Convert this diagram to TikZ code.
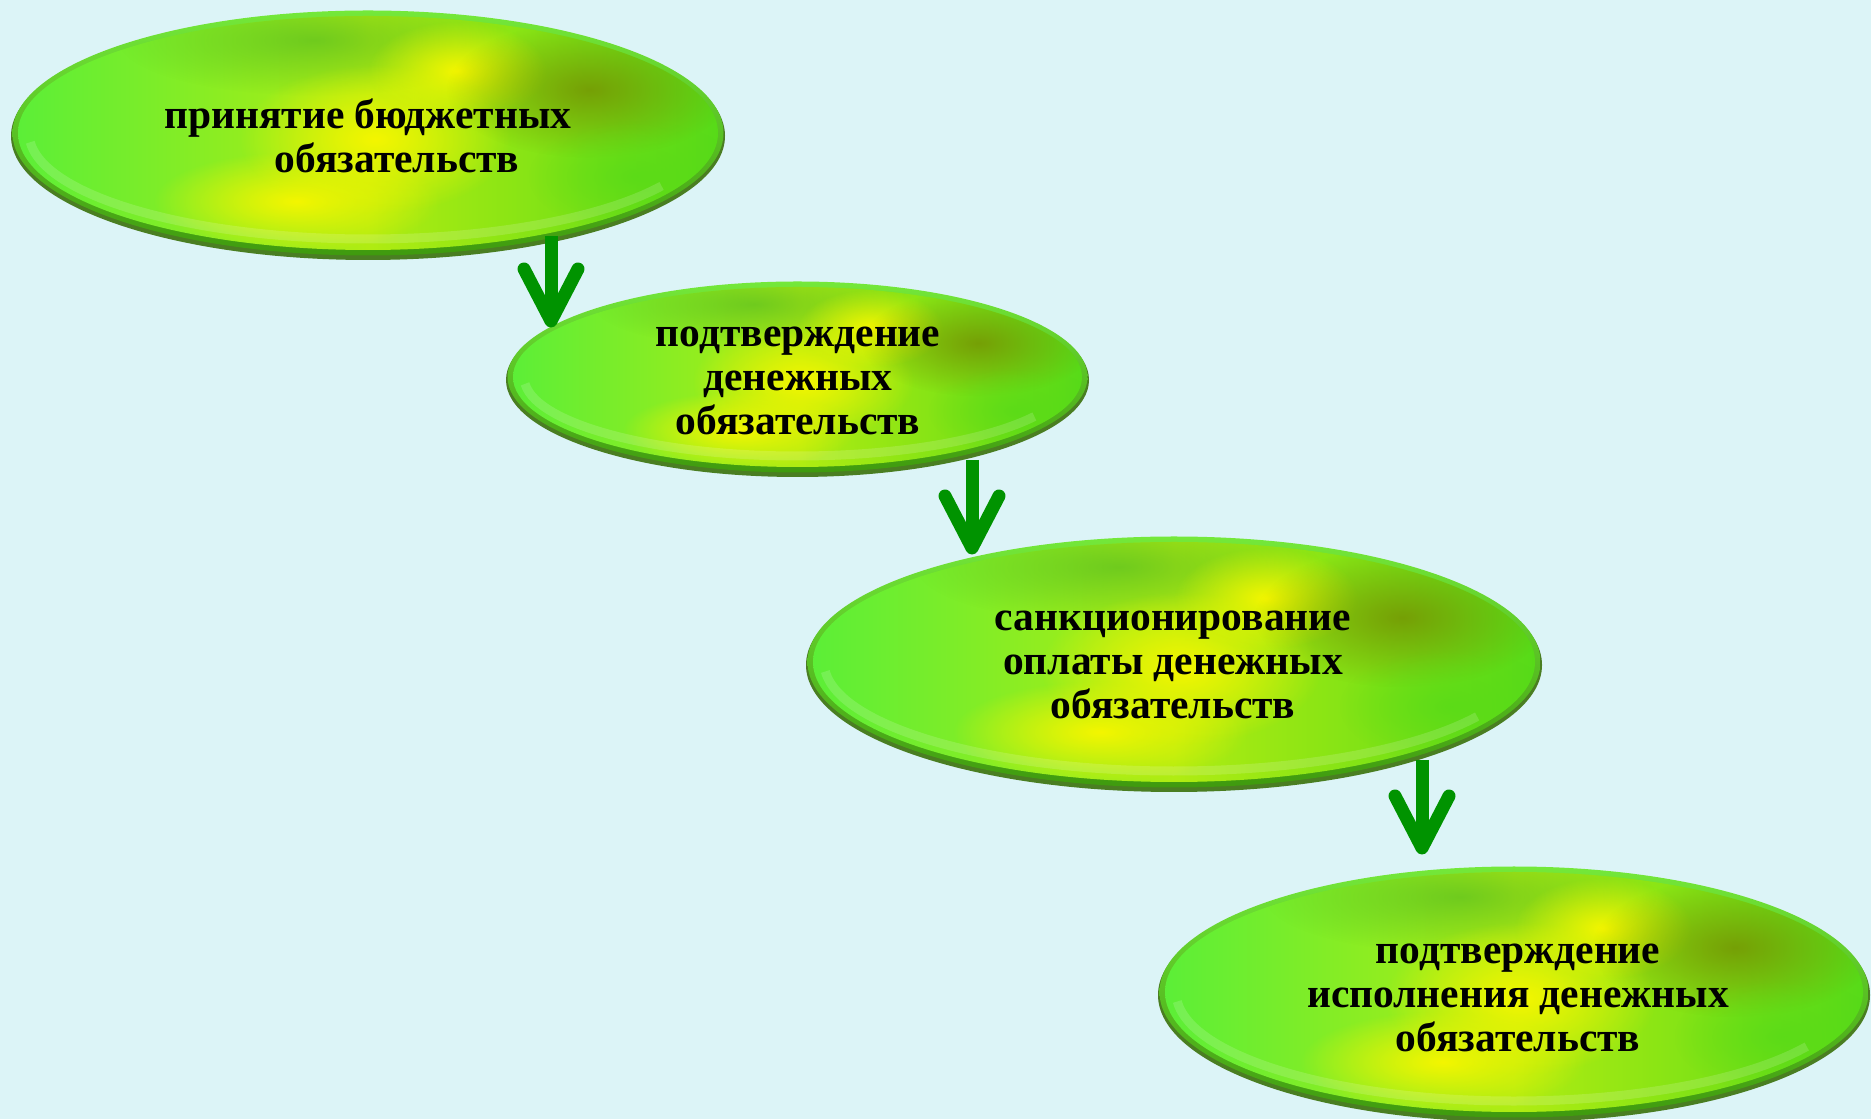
\documentclass[tikz,border=0pt]{standalone}
\usepackage{fontspec}
\setmainfont{Liberation Serif}
\usetikzlibrary{fadings}
\tikzfading[name=glow, inner color=transparent!0, outer color=transparent!100]
\definecolor{bgc}{HTML}{DCF4F7}
\definecolor{rimdark}{HTML}{4A7E22}
\definecolor{rimtop}{HTML}{74E83A}
\definecolor{rimbot}{HTML}{3F9A0E}
\definecolor{gL}{HTML}{5AEE38}
\definecolor{gM}{HTML}{B0EC12}
\definecolor{gR}{HTML}{55DA18}
\definecolor{yel}{HTML}{F4F600}
\definecolor{olive}{HTML}{758A00}
\definecolor{topg}{HTML}{4DB522}
\definecolor{arrg}{HTML}{009300}
\tikzset{
  txt/.style={font=\bfseries\fontsize{41.5}{44}\selectfont, align=center, text=black, inner sep=0pt},
  shaft/.style={draw=arrg, line width=13pt, line cap=butt},
  head/.style={draw=arrg, line width=13pt, line cap=round, line join=round},
}
\newcommand\bub[4]{%
  \fill[rimdark] (#1,#2-3) ellipse [x radius=#3, y radius=#4];
  \shade[top color=rimtop, bottom color=rimbot] (#1,#2) ellipse [x radius=#3-1.5, y radius=#4-1.5];
  \begin{scope}
    \clip (#1,#2) ellipse [x radius=#3-7, y radius=#4-7];
    \shade[left color=gL, right color=gR, middle color=gM] (#1-#3,#2-#4) rectangle (#1+#3,#2+#4);
    \fill[topg, opacity=.6, path fading=glow] (#1-0.15*#3,#2+0.75*#4) ellipse [x radius=0.55*#3, y radius=0.45*#4];
    \fill[yel, path fading=glow] (#1-0.2*#3,#2-0.55*#4) ellipse [x radius=0.4*#3, y radius=0.4*#4];
    \fill[yel, path fading=glow] (#1+0.02*#3,#2-0.05*#4) ellipse [x radius=0.38*#3, y radius=0.6*#4];
    \fill[yel, path fading=glow] (#1+0.25*#3,#2+0.5*#4) ellipse [x radius=0.25*#3, y radius=0.4*#4];
    \fill[olive, opacity=.75, path fading=glow] (#1+0.62*#3,#2+0.35*#4) ellipse [x radius=0.4*#3, y radius=0.55*#4];
    \fill[gR, opacity=.7, path fading=glow] (#1+0.75*#3,#2-0.35*#4) ellipse [x radius=0.3*#3, y radius=0.45*#4];
    \draw[white, opacity=.15, line width=9pt] (#1,#2) ++(185:{#3-18} and {#4-18}) arc [start angle=185, end angle=330, x radius={#3-18}, y radius={#4-18}];
  \end{scope}
}
\begin{document}
\begin{tikzpicture}[x=1pt,y=1pt]
  \useasboundingbox (0,0) rectangle (1871,1119);
  \fill[bgc] (0,0) rectangle (1871,1119);

  \bub{368}{986}{357}{124}
  \bub{797.5}{742}{291.5}{97}
  \bub{1174}{457}{368}{127}
  \bub{1514}{127}{356}{127}

  \node[txt] (t1) at (368,983) {принятие бюджетных\\\hspace*{58pt}обязательств};
  \node[txt] (t2) at (798,738) {подтверждение\\денежных\\обязательств};
  \node[txt] (t3) at (1173,454) {санкционирование\\оплаты денежных\\обязательств};
  \node[txt] (t4) at (1518,121) {подтверждение\\исполнения денежных\\обязательств};

  \coordinate (a1s) at (551,883); \coordinate (a1e) at (551,798);
  \coordinate (a2s) at (972,659); \coordinate (a2e) at (972,571);
  \coordinate (a3s) at (1422,359); \coordinate (a3e) at (1422,271);
  \foreach \s/\e in {a1s/a1e, a2s/a2e, a3s/a3e}{
    \draw[shaft] (\s) -- (\e);
    \draw[head] (\e) ++(-27,52) -- (\e) -- ++(27,52);
  }
\end{tikzpicture}
\end{document}
